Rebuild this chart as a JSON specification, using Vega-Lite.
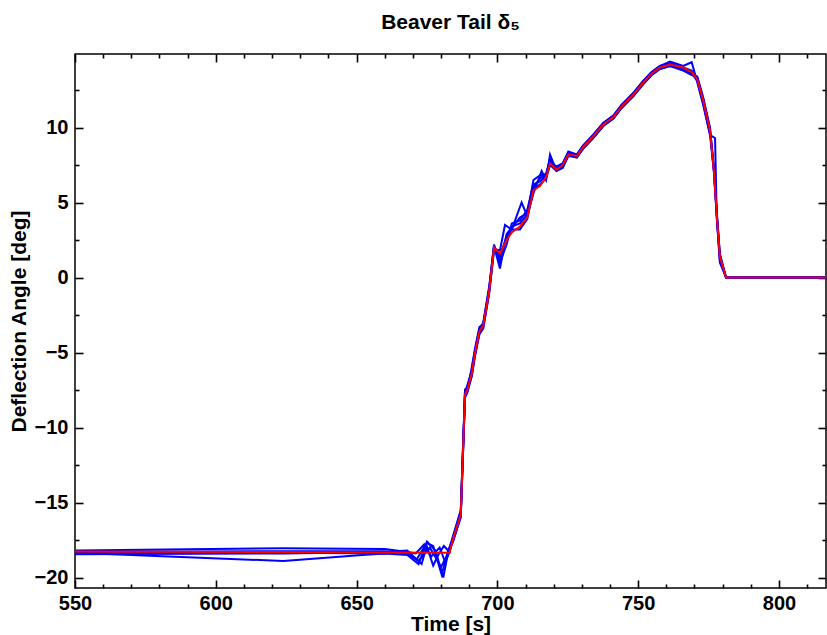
{
  "$schema": "https://vega.github.io/schema/vega-lite/v6.json",
  "width": 751,
  "height": 534,
  "autosize": {"type": "none"},
  "padding": {"left": 75, "top": 54, "right": 1, "bottom": 47},
  "background": "white",
  "title": {
    "text": "Beaver Tail δ₅",
    "font": "Liberation Sans",
    "fontSize": 21,
    "fontWeight": "bold",
    "color": "black",
    "anchor": "middle",
    "offset": 20
  },
  "config": {
    "view": {"stroke": "black", "strokeWidth": 1.5},
    "axis": {
      "labelFont": "Liberation Sans",
      "labelFontSize": 20,
      "labelFontWeight": "bold",
      "labelColor": "black",
      "titleFont": "Liberation Sans",
      "titleFontSize": 21,
      "titleFontWeight": "bold",
      "titleColor": "black",
      "domain": false,
      "ticks": true,
      "tickColor": "#000000",
      "tickWidth": 1.6,
      "tickOpacity": 1,
      "grid": false,
      "labelFlush": false,
      "labelOverlap": false
    }
  },
  "datasets": {
    "runs": [
      {"run": "r1", "t": 550, "y": -18.35}, {"run": "r1", "t": 624, "y": -18.9}, {"run": "r1", "t": 652, "y": -18.5}, {"run": "r1", "t": 660, "y": -18.4}, {"run": "r1", "t": 668, "y": -18.5}, {"run": "r1", "t": 672, "y": -19.1}, {"run": "r1", "t": 675, "y": -17.6}, {"run": "r1", "t": 678, "y": -18.2}, {"run": "r1", "t": 680.8, "y": -20.0}, {"run": "r1", "t": 682.5, "y": -18.3}, {"run": "r1", "t": 684.3, "y": -17.2}, {"run": "r1", "t": 687, "y": -15.5}, {"run": "r1", "t": 688.5, "y": -7.6}, {"run": "r1", "t": 689.3, "y": -7.2}, {"run": "r1", "t": 690.9, "y": -6.2}, {"run": "r1", "t": 692, "y": -4.9}, {"run": "r1", "t": 693.6, "y": -3.5}, {"run": "r1", "t": 695, "y": -3.0}, {"run": "r1", "t": 697.1, "y": -0.6}, {"run": "r1", "t": 698.8, "y": 2.1}, {"run": "r1", "t": 700.9, "y": 0.6}, {"run": "r1", "t": 703.3, "y": 2.9}, {"run": "r1", "t": 705.1, "y": 3.3}, {"run": "r1", "t": 708, "y": 4.0}, {"run": "r1", "t": 710.6, "y": 4.3}, {"run": "r1", "t": 712.8, "y": 6.0}, {"run": "r1", "t": 715.1, "y": 6.6}, {"run": "r1", "t": 717.3, "y": 6.9}, {"run": "r1", "t": 718.7, "y": 7.9}, {"run": "r1", "t": 721, "y": 7.3}, {"run": "r1", "t": 723.2, "y": 7.6}, {"run": "r1", "t": 725.2, "y": 8.4}, {"run": "r1", "t": 728.2, "y": 8.2}, {"run": "r1", "t": 730.5, "y": 8.8}, {"run": "r1", "t": 734, "y": 9.5}, {"run": "r1", "t": 737.6, "y": 10.3}, {"run": "r1", "t": 741.2, "y": 10.8}, {"run": "r1", "t": 744.1, "y": 11.5}, {"run": "r1", "t": 748.3, "y": 12.3}, {"run": "r1", "t": 751.8, "y": 13.1}, {"run": "r1", "t": 754.8, "y": 13.7}, {"run": "r1", "t": 757.7, "y": 14.1}, {"run": "r1", "t": 761.3, "y": 14.4}, {"run": "r1", "t": 766, "y": 14.1}, {"run": "r1", "t": 769, "y": 14.35}, {"run": "r1", "t": 771, "y": 13.0}, {"run": "r1", "t": 773.1, "y": 11.5}, {"run": "r1", "t": 775.5, "y": 9.5}, {"run": "r1", "t": 777.3, "y": 9.3}, {"run": "r1", "t": 777.9, "y": 4.0}, {"run": "r1", "t": 779, "y": 1.0}, {"run": "r1", "t": 781.2, "y": 0}, {"run": "r1", "t": 816.7, "y": 0},
      {"run": "r2", "t": 550, "y": -18.2}, {"run": "r2", "t": 624, "y": -18.05}, {"run": "r2", "t": 660, "y": -18.1}, {"run": "r2", "t": 668, "y": -18.3}, {"run": "r2", "t": 671.3, "y": -18.8}, {"run": "r2", "t": 674.9, "y": -17.7}, {"run": "r2", "t": 677.2, "y": -17.9}, {"run": "r2", "t": 680.2, "y": -19.8}, {"run": "r2", "t": 682.5, "y": -18.2}, {"run": "r2", "t": 684.3, "y": -17.5}, {"run": "r2", "t": 687, "y": -16.0}, {"run": "r2", "t": 688.5, "y": -8.0}, {"run": "r2", "t": 689.3, "y": -7.7}, {"run": "r2", "t": 690.9, "y": -6.6}, {"run": "r2", "t": 692, "y": -5.3}, {"run": "r2", "t": 693.6, "y": -3.8}, {"run": "r2", "t": 695, "y": -3.4}, {"run": "r2", "t": 697.1, "y": -1.0}, {"run": "r2", "t": 698.8, "y": 1.9}, {"run": "r2", "t": 700.9, "y": 1.8}, {"run": "r2", "t": 702.7, "y": 3.5}, {"run": "r2", "t": 705.1, "y": 3.2}, {"run": "r2", "t": 708.6, "y": 5.0}, {"run": "r2", "t": 710.6, "y": 4.1}, {"run": "r2", "t": 712.8, "y": 5.6}, {"run": "r2", "t": 715.7, "y": 7.1}, {"run": "r2", "t": 717.3, "y": 6.5}, {"run": "r2", "t": 718.7, "y": 8.2}, {"run": "r2", "t": 721, "y": 7.1}, {"run": "r2", "t": 723.2, "y": 7.3}, {"run": "r2", "t": 725.2, "y": 8.1}, {"run": "r2", "t": 728.2, "y": 8.0}, {"run": "r2", "t": 730.5, "y": 8.6}, {"run": "r2", "t": 734, "y": 9.3}, {"run": "r2", "t": 737.6, "y": 10.1}, {"run": "r2", "t": 741.2, "y": 10.6}, {"run": "r2", "t": 744.1, "y": 11.3}, {"run": "r2", "t": 748.3, "y": 12.1}, {"run": "r2", "t": 751.8, "y": 12.9}, {"run": "r2", "t": 754.8, "y": 13.5}, {"run": "r2", "t": 757.7, "y": 13.9}, {"run": "r2", "t": 761.3, "y": 14.1}, {"run": "r2", "t": 766, "y": 13.8}, {"run": "r2", "t": 769, "y": 13.5}, {"run": "r2", "t": 771, "y": 13.4}, {"run": "r2", "t": 773.1, "y": 12.0}, {"run": "r2", "t": 775.5, "y": 10.0}, {"run": "r2", "t": 776.9, "y": 7.3}, {"run": "r2", "t": 777.9, "y": 4.4}, {"run": "r2", "t": 779, "y": 1.6}, {"run": "r2", "t": 781.2, "y": 0}, {"run": "r2", "t": 816.7, "y": 0},
      {"run": "r3", "t": 550, "y": -18.45}, {"run": "r3", "t": 624, "y": -18.4}, {"run": "r3", "t": 660, "y": -18.3}, {"run": "r3", "t": 668, "y": -18.2}, {"run": "r3", "t": 673.1, "y": -19.1}, {"run": "r3", "t": 674.9, "y": -17.9}, {"run": "r3", "t": 677.2, "y": -19.2}, {"run": "r3", "t": 679, "y": -18.5}, {"run": "r3", "t": 681, "y": -17.9}, {"run": "r3", "t": 683, "y": -18.3}, {"run": "r3", "t": 684.3, "y": -17.3}, {"run": "r3", "t": 687, "y": -15.6}, {"run": "r3", "t": 688.5, "y": -7.5}, {"run": "r3", "t": 689.3, "y": -7.6}, {"run": "r3", "t": 690.9, "y": -6.0}, {"run": "r3", "t": 692, "y": -4.8}, {"run": "r3", "t": 693.6, "y": -3.3}, {"run": "r3", "t": 695, "y": -3.1}, {"run": "r3", "t": 697.1, "y": -0.7}, {"run": "r3", "t": 698.8, "y": 2.2}, {"run": "r3", "t": 700.9, "y": 1.0}, {"run": "r3", "t": 703.3, "y": 2.2}, {"run": "r3", "t": 705.1, "y": 3.6}, {"run": "r3", "t": 708, "y": 3.8}, {"run": "r3", "t": 710.6, "y": 4.5}, {"run": "r3", "t": 712.8, "y": 6.2}, {"run": "r3", "t": 715.1, "y": 6.4}, {"run": "r3", "t": 717.3, "y": 6.8}, {"run": "r3", "t": 718.7, "y": 7.7}, {"run": "r3", "t": 721, "y": 7.4}, {"run": "r3", "t": 723.2, "y": 7.6}, {"run": "r3", "t": 725.2, "y": 8.3}, {"run": "r3", "t": 728.2, "y": 8.2}, {"run": "r3", "t": 730.5, "y": 8.8}, {"run": "r3", "t": 734, "y": 9.5}, {"run": "r3", "t": 737.6, "y": 10.3}, {"run": "r3", "t": 741.2, "y": 10.8}, {"run": "r3", "t": 744.1, "y": 11.5}, {"run": "r3", "t": 748.3, "y": 12.3}, {"run": "r3", "t": 751.8, "y": 13.1}, {"run": "r3", "t": 754.8, "y": 13.7}, {"run": "r3", "t": 757.7, "y": 14.1}, {"run": "r3", "t": 761.3, "y": 14.3}, {"run": "r3", "t": 766, "y": 13.9}, {"run": "r3", "t": 769, "y": 13.6}, {"run": "r3", "t": 771, "y": 13.1}, {"run": "r3", "t": 773.1, "y": 11.6}, {"run": "r3", "t": 775.5, "y": 9.6}, {"run": "r3", "t": 776.9, "y": 7.0}, {"run": "r3", "t": 777.9, "y": 4.1}, {"run": "r3", "t": 779, "y": 1.2}, {"run": "r3", "t": 781.2, "y": 0}, {"run": "r3", "t": 816.7, "y": 0},
      {"run": "r4", "t": 550, "y": -18.3}, {"run": "r4", "t": 624, "y": -18.25}, {"run": "r4", "t": 660, "y": -18.25}, {"run": "r4", "t": 668, "y": -18.4}, {"run": "r4", "t": 672, "y": -18.9}, {"run": "r4", "t": 676, "y": -18.0}, {"run": "r4", "t": 678.5, "y": -18.8}, {"run": "r4", "t": 680, "y": -19.3}, {"run": "r4", "t": 682.5, "y": -18.4}, {"run": "r4", "t": 684.3, "y": -17.6}, {"run": "r4", "t": 687, "y": -15.9}, {"run": "r4", "t": 688.5, "y": -7.9}, {"run": "r4", "t": 689.3, "y": -7.4}, {"run": "r4", "t": 690.9, "y": -6.5}, {"run": "r4", "t": 692, "y": -5.2}, {"run": "r4", "t": 693.6, "y": -3.7}, {"run": "r4", "t": 695, "y": -3.3}, {"run": "r4", "t": 697.1, "y": -1.0}, {"run": "r4", "t": 698.8, "y": 1.8}, {"run": "r4", "t": 700.9, "y": 1.5}, {"run": "r4", "t": 703.3, "y": 2.6}, {"run": "r4", "t": 705.1, "y": 3.2}, {"run": "r4", "t": 708, "y": 3.2}, {"run": "r4", "t": 710.6, "y": 3.9}, {"run": "r4", "t": 712.8, "y": 5.9}, {"run": "r4", "t": 715.1, "y": 6.2}, {"run": "r4", "t": 717.3, "y": 6.6}, {"run": "r4", "t": 718.7, "y": 7.5}, {"run": "r4", "t": 721, "y": 7.1}, {"run": "r4", "t": 723.2, "y": 7.4}, {"run": "r4", "t": 725.2, "y": 8.2}, {"run": "r4", "t": 728.2, "y": 8.0}, {"run": "r4", "t": 730.5, "y": 8.6}, {"run": "r4", "t": 734, "y": 9.3}, {"run": "r4", "t": 737.6, "y": 10.1}, {"run": "r4", "t": 741.2, "y": 10.6}, {"run": "r4", "t": 744.1, "y": 11.3}, {"run": "r4", "t": 748.3, "y": 12.1}, {"run": "r4", "t": 751.8, "y": 12.9}, {"run": "r4", "t": 754.8, "y": 13.5}, {"run": "r4", "t": 757.7, "y": 13.9}, {"run": "r4", "t": 761.3, "y": 14.1}, {"run": "r4", "t": 766, "y": 14.0}, {"run": "r4", "t": 769, "y": 13.8}, {"run": "r4", "t": 771, "y": 13.3}, {"run": "r4", "t": 773.1, "y": 11.9}, {"run": "r4", "t": 775.5, "y": 9.9}, {"run": "r4", "t": 776.9, "y": 7.2}, {"run": "r4", "t": 777.9, "y": 4.3}, {"run": "r4", "t": 779, "y": 1.5}, {"run": "r4", "t": 781.2, "y": 0}, {"run": "r4", "t": 816.7, "y": 0},
      {"run": "r5", "t": 550, "y": -18.25}, {"run": "r5", "t": 624, "y": -18.35}, {"run": "r5", "t": 660, "y": -18.4}, {"run": "r5", "t": 668, "y": -18.3}, {"run": "r5", "t": 671, "y": -18.4}, {"run": "r5", "t": 674, "y": -17.8}, {"run": "r5", "t": 676.5, "y": -18.6}, {"run": "r5", "t": 679.5, "y": -18.0}, {"run": "r5", "t": 681.5, "y": -19.0}, {"run": "r5", "t": 683, "y": -18.3}, {"run": "r5", "t": 684.3, "y": -17.3}, {"run": "r5", "t": 687, "y": -15.7}, {"run": "r5", "t": 688.5, "y": -7.7}, {"run": "r5", "t": 689.3, "y": -7.3}, {"run": "r5", "t": 690.9, "y": -6.3}, {"run": "r5", "t": 692, "y": -5.0}, {"run": "r5", "t": 693.6, "y": -3.5}, {"run": "r5", "t": 695, "y": -3.1}, {"run": "r5", "t": 697.1, "y": -0.8}, {"run": "r5", "t": 698.8, "y": 2.0}, {"run": "r5", "t": 700.9, "y": 1.3}, {"run": "r5", "t": 703.3, "y": 2.8}, {"run": "r5", "t": 705.1, "y": 3.4}, {"run": "r5", "t": 708, "y": 3.6}, {"run": "r5", "t": 710.6, "y": 4.2}, {"run": "r5", "t": 712.8, "y": 6.5}, {"run": "r5", "t": 715.1, "y": 6.8}, {"run": "r5", "t": 717.3, "y": 6.9}, {"run": "r5", "t": 718.7, "y": 7.8}, {"run": "r5", "t": 721, "y": 7.3}, {"run": "r5", "t": 723.2, "y": 7.5}, {"run": "r5", "t": 725.2, "y": 8.3}, {"run": "r5", "t": 728.2, "y": 8.1}, {"run": "r5", "t": 730.5, "y": 8.7}, {"run": "r5", "t": 734, "y": 9.4}, {"run": "r5", "t": 737.6, "y": 10.2}, {"run": "r5", "t": 741.2, "y": 10.7}, {"run": "r5", "t": 744.1, "y": 11.4}, {"run": "r5", "t": 748.3, "y": 12.2}, {"run": "r5", "t": 751.8, "y": 13.0}, {"run": "r5", "t": 754.8, "y": 13.6}, {"run": "r5", "t": 757.7, "y": 14.0}, {"run": "r5", "t": 761.3, "y": 14.25}, {"run": "r5", "t": 766, "y": 14.0}, {"run": "r5", "t": 769, "y": 13.7}, {"run": "r5", "t": 771, "y": 13.2}, {"run": "r5", "t": 773.1, "y": 11.7}, {"run": "r5", "t": 775.5, "y": 9.7}, {"run": "r5", "t": 776.9, "y": 7.1}, {"run": "r5", "t": 777.9, "y": 4.2}, {"run": "r5", "t": 779, "y": 1.3}, {"run": "r5", "t": 781.2, "y": 0}, {"run": "r5", "t": 816.7, "y": 0}
    ],
    "mean": [
      {"t": 550, "y": -18.27}, {"t": 620, "y": -18.3}, {"t": 660, "y": -18.33}, {"t": 683, "y": -18.35}, {"t": 684.3, "y": -17.4}, {"t": 687, "y": -15.8}, {"t": 688.5, "y": -7.8}, {"t": 689.3, "y": -7.5}, {"t": 690.9, "y": -6.4}, {"t": 692, "y": -5.1}, {"t": 693.6, "y": -3.6}, {"t": 695, "y": -3.2}, {"t": 697.1, "y": -0.9}, {"t": 698.8, "y": 2.0}, {"t": 700.9, "y": 1.6}, {"t": 703.3, "y": 2.5}, {"t": 705.1, "y": 3.0}, {"t": 708, "y": 3.4}, {"t": 710.6, "y": 4.0}, {"t": 712.8, "y": 5.8}, {"t": 715.1, "y": 6.1}, {"t": 717.3, "y": 6.7}, {"t": 718.7, "y": 7.6}, {"t": 721, "y": 7.2}, {"t": 723.2, "y": 7.5}, {"t": 725.2, "y": 8.2}, {"t": 728.2, "y": 8.1}, {"t": 730.5, "y": 8.7}, {"t": 734, "y": 9.4}, {"t": 737.6, "y": 10.2}, {"t": 741.2, "y": 10.7}, {"t": 744.1, "y": 11.4}, {"t": 748.3, "y": 12.2}, {"t": 751.8, "y": 13.0}, {"t": 754.8, "y": 13.6}, {"t": 757.7, "y": 14.0}, {"t": 761.3, "y": 14.2}, {"t": 766, "y": 14.0}, {"t": 769, "y": 13.7}, {"t": 771, "y": 13.2}, {"t": 773.1, "y": 11.8}, {"t": 775.5, "y": 9.8}, {"t": 776.9, "y": 7.1}, {"t": 777.9, "y": 4.2}, {"t": 779, "y": 1.4}, {"t": 781.2, "y": 0}, {"t": 816.7, "y": 0}
    ]
  },
  "layer": [
    {
      "data": {"name": "runs"},
      "mark": {"type": "line", "color": "#0000ff", "strokeWidth": 2, "clip": true},
      "encoding": {
        "x": {
          "field": "t", "type": "quantitative",
          "scale": {"domain": [550, 816.7], "nice": false, "zero": false},
          "axis": {"orient": "bottom", "title": "Time [s]", "titlePadding": 0, "values": [550, 600, 650, 700, 750, 800], "tickSize": -8, "labelPadding": 13}
        },
        "y": {
          "field": "y", "type": "quantitative",
          "scale": {"domain": [-20.7, 14.9], "nice": false, "zero": false},
          "axis": {"orient": "left", "title": "Deflection Angle [deg]", "titlePadding": 5, "values": [-20, -15, -10, -5, 0, 5, 10], "tickSize": -8, "labelPadding": 15}
        },
        "detail": {"field": "run"}
      }
    },
    {
      "data": {"name": "mean"},
      "mark": {"type": "line", "color": "#ff0000", "strokeWidth": 2, "clip": true},
      "encoding": {
        "x": {
          "field": "t", "type": "quantitative",
          "scale": {"domain": [550, 816.7], "nice": false, "zero": false},
          "axis": {"orient": "top", "title": null, "labelExpr": "''", "labelOpacity": 0, "labelFontSize": 1, "labelPadding": 0, "tickSize": -8, "values": [550, 600, 650, 700, 750, 800]}
        },
        "y": {
          "field": "y", "type": "quantitative",
          "scale": {"domain": [-20.7, 14.9], "nice": false, "zero": false},
          "axis": {"orient": "right", "title": null, "labelExpr": "''", "labelOpacity": 0, "labelFontSize": 1, "labelPadding": 0, "tickSize": -8, "values": [-20, -15, -10, -5, 0, 5, 10]}
        }
      }
    },
    {
      "data": {"name": "mean"},
      "mark": {"type": "line", "strokeOpacity": 0, "clip": true},
      "encoding": {
        "x": {
          "field": "t", "type": "quantitative",
          "scale": {"domain": [550, 816.7], "nice": false, "zero": false},
          "axis": {"orient": "bottom", "title": null, "labelExpr": "''", "labelOpacity": 0, "labelFontSize": 1, "labelPadding": 0, "tickSize": -4, "values": [560, 570, 580, 590, 610, 620, 630, 640, 660, 670, 680, 690, 710, 720, 730, 740, 760, 770, 780, 790, 810]}
        },
        "y": {
          "field": "y", "type": "quantitative",
          "scale": {"domain": [-20.7, 14.9], "nice": false, "zero": false},
          "axis": {"orient": "left", "title": null, "labelExpr": "''", "labelOpacity": 0, "labelFontSize": 1, "labelPadding": 0, "tickSize": -4, "values": [-17.5, -12.5, -7.5, -2.5, 2.5, 7.5, 12.5]}
        }
      }
    },
    {
      "data": {"name": "mean"},
      "mark": {"type": "line", "strokeOpacity": 0, "clip": true},
      "encoding": {
        "x": {
          "field": "t", "type": "quantitative",
          "scale": {"domain": [550, 816.7], "nice": false, "zero": false},
          "axis": {"orient": "top", "title": null, "labelExpr": "''", "labelOpacity": 0, "labelFontSize": 1, "labelPadding": 0, "tickSize": -4, "values": [560, 570, 580, 590, 610, 620, 630, 640, 660, 670, 680, 690, 710, 720, 730, 740, 760, 770, 780, 790, 810]}
        },
        "y": {
          "field": "y", "type": "quantitative",
          "scale": {"domain": [-20.7, 14.9], "nice": false, "zero": false},
          "axis": {"orient": "right", "title": null, "labelExpr": "''", "labelOpacity": 0, "labelFontSize": 1, "labelPadding": 0, "tickSize": -4, "values": [-17.5, -12.5, -7.5, -2.5, 2.5, 7.5, 12.5]}
        }
      }
    }
  ],
  "resolve": {"scale": {"x": "independent", "y": "independent"}, "axis": {"x": "independent", "y": "independent"}}
}
